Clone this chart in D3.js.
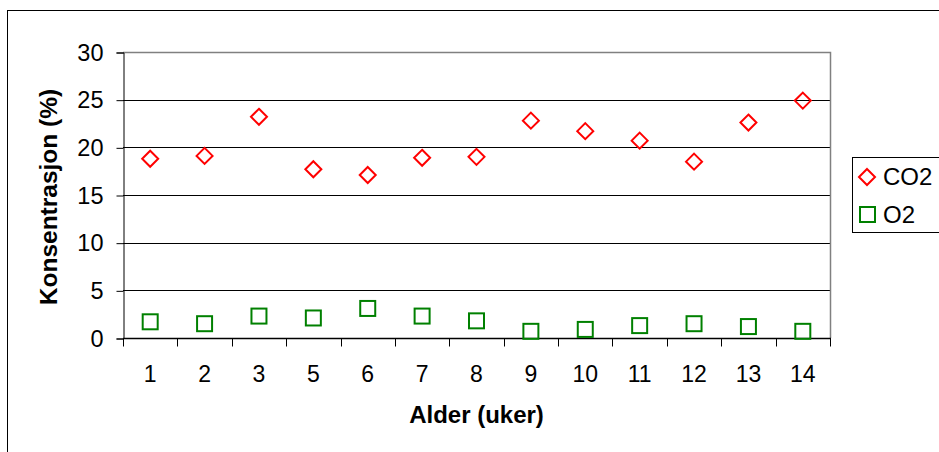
<!DOCTYPE html>
<html>
<head>
<meta charset="utf-8">
<script src="https://cdn.jsdelivr.net/npm/d3@7"></script>
<style>
  body { margin: 0; background: #fff; }
  svg text { font-family: "Liberation Sans", Arial, sans-serif; }
</style>
</head>
<body>
<svg id="chart" width="939" height="452"></svg>
<script>
// data
const weeks = ['1', '2', '3', '5', '6', '7', '8', '9', '10', '11', '12', '13', '14'];
const co2 = [18.8, 19.1, 23.2, 17.7, 17.1, 18.9, 19.0, 22.8, 21.7, 20.7, 18.5, 22.6, 24.9];
const o2 = [1.7, 1.5, 2.3, 2.1, 3.1, 2.3, 1.8, 0.7, 0.9, 1.3, 1.5, 1.2, 0.7];
const yTicks = [0, 5, 10, 15, 20, 25, 30];

const svg = d3.select('#chart');
const plot = { left: 123, top: 52, right: 830, bottom: 338 };

// outer frame (right and bottom edges fall outside the picture)
svg.append('rect')
    .attr('x', 7.5).attr('y', 10.5)
    .attr('width', 960).attr('height', 480)
    .attr('fill', 'none').attr('stroke', '#000').attr('stroke-width', 1);

const x = d3.scaleBand().domain(weeks).range([plot.left, plot.right]);
const y = d3.scaleLinear().domain([0, 30]).range([plot.bottom, plot.top]);

// gridlines
svg.append('g')
    .selectAll('line')
    .data(yTicks.filter(d => d > 0 && d < 30))
    .enter()
    .append('line')
    .attr('x1', plot.left).attr('x2', plot.right)
    .attr('y1', d => Math.round(y(d)) + 0.5)
    .attr('y2', d => Math.round(y(d)) + 0.5)
    .attr('stroke', '#000');

// plot area border top/right (grey)
svg.append('path')
    .attr('d', `M${plot.left},${plot.top + 0.5}H${plot.right + 0.5}V${plot.bottom}`)
    .attr('fill', 'none').attr('stroke', '#808080').attr('stroke-width', 1.5);

// y axis
const yAxis = svg.append('g')
    .attr('transform', `translate(${plot.left + 0.5},0.5)`)
    .call(d3.axisLeft(y).tickValues(yTicks).tickSize(7).tickPadding(13));
yAxis.select('.domain').attr('stroke', '#000');
yAxis.selectAll('.tick line').attr('stroke', '#000');
yAxis.selectAll('.tick text')
    .attr('font-size', 23.5).attr('fill', '#000')
    .style('font-family', '"Liberation Sans", Arial, sans-serif');

// x axis: ticks at band edges
const xAxis = svg.append('g')
    .attr('transform', `translate(0,${plot.bottom + 0.5})`);
xAxis.append('line')
    .attr('x1', plot.left).attr('x2', plot.right + 1)
    .attr('stroke', '#000').attr('stroke-width', 1.5);
const edges = weeks.map(w => x(w)).concat([plot.right]);
xAxis.selectAll('.edge')
    .data(edges)
    .enter()
    .append('line')
    .attr('class', 'edge')
    .attr('x1', d => Math.round(d) + 0.5).attr('x2', d => Math.round(d) + 0.5)
    .attr('y1', 0).attr('y2', 8)
    .attr('stroke', '#000');
xAxis.selectAll('text')
    .data(weeks)
    .enter()
    .append('text')
    .attr('x', d => x(d) + x.bandwidth() / 2)
    .attr('y', 43)
    .attr('text-anchor', 'middle')
    .attr('font-size', 23)
    .text(d => d);

// axis titles
svg.append('text')
    .attr('x', (plot.left + plot.right) / 2).attr('y', 423)
    .attr('text-anchor', 'middle')
    .attr('font-size', 24).attr('font-weight', 'bold')
    .text('Alder (uker)');
svg.append('text')
    .attr('transform', `translate(57,${(plot.top + plot.bottom) / 2 + 2}) rotate(-90)`)
    .attr('text-anchor', 'middle')
    .attr('font-size', 24.5).attr('font-weight', 'bold')
    .text('Konsentrasjon (%)');

// markers
const diamond = s => `M0,${-s}L${s},0L0,${s}L${-s},0Z`;
const cx = d => x(d) + x.bandwidth() / 2;

svg.append('g')
    .selectAll('path')
    .data(weeks.map((w, i) => ({ w, v: co2[i] })))
    .enter()
    .append('path')
    .attr('transform', d => `translate(${cx(d.w)},${y(d.v)})`)
    .attr('d', diamond(8))
    .attr('fill', 'none').attr('stroke', '#ff0000').attr('stroke-width', 2);

svg.append('g')
    .selectAll('rect')
    .data(weeks.map((w, i) => ({ w, v: o2[i] })))
    .enter()
    .append('rect')
    .attr('x', d => cx(d.w) - 7.5).attr('y', d => y(d.v) - 7.5)
    .attr('width', 15).attr('height', 15)
    .attr('fill', 'none').attr('stroke', '#008000').attr('stroke-width', 2);

// legend
const legend = svg.append('g').attr('transform', 'translate(852,157)');
legend.append('rect')
    .attr('x', 0.5).attr('y', 0.5)
    .attr('width', 120).attr('height', 75)
    .attr('fill', '#fff').attr('stroke', '#000');
legend.append('path')
    .attr('transform', 'translate(15,20)')
    .attr('d', diamond(8))
    .attr('fill', 'none').attr('stroke', '#ff0000').attr('stroke-width', 2);
legend.append('rect')
    .attr('x', 8).attr('y', 50).attr('width', 15).attr('height', 15)
    .attr('fill', 'none').attr('stroke', '#008000').attr('stroke-width', 2);
legend.append('text').attr('x', 31).attr('y', 28).attr('font-size', 24).text('CO2');
legend.append('text').attr('x', 31).attr('y', 66).attr('font-size', 24).text('O2');
</script>
</body>
</html>
